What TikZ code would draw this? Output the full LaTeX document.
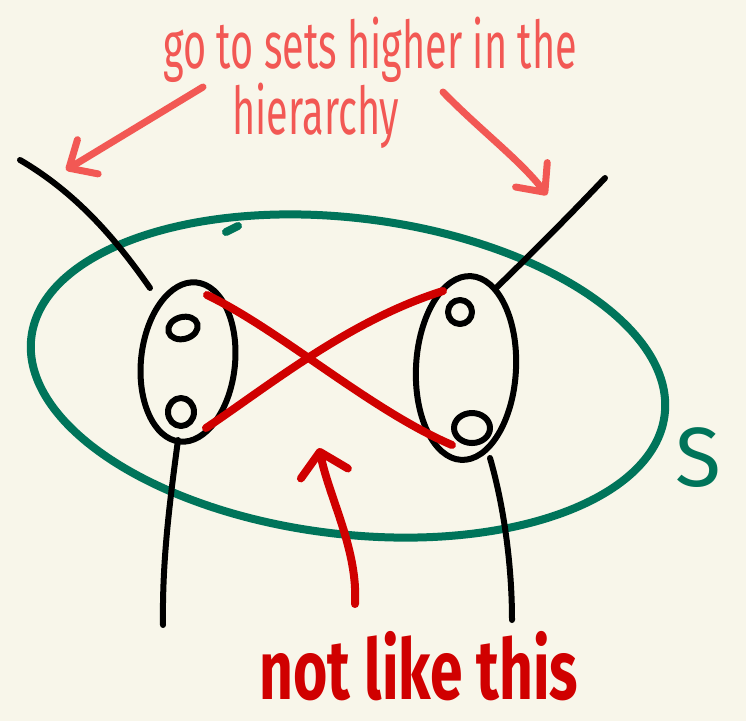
\documentclass[tikz,border=0pt]{standalone}
\usepackage{fontspec}
\setmainfont{Fira Sans}
\usetikzlibrary{arrows.meta}
\definecolor{bg}{RGB}{248,246,234}
\definecolor{salmon}{RGB}{242,88,84}
\definecolor{redx}{RGB}{208,0,0}
\definecolor{setgreen}{RGB}{0,116,90}
\tikzset{
  ink/.style={line width=6pt, line cap=round, line join=round, black},
  greenink/.style={line width=8pt, line cap=round, setgreen},
  redink/.style={line width=8pt, line cap=round, redx},
  salink/.style={line width=7pt, line cap=round, line join=round, salmon},
  barb/.style={-{Straight Barb[length=22pt,width=40pt,line width=7pt,round]}},
  lbl/.style={inner sep=0pt, anchor=center}
}
\begin{document}
\begin{tikzpicture}[x=1pt,y=-1pt]
\fill[bg] (0,0) rectangle (746,721);
\useasboundingbox (0,0) rectangle (746,721);
% set S
\draw[greenink, rotate around={-7:(348,376)}] (348,376) ellipse [x radius=319, y radius=158];
\draw[greenink] (226,232) -- (238,226);
\node[lbl, text=setgreen, font=\fontsize{84}{84}\selectfont] (slabel) at (698,458) {S};
% left set
\draw[ink, rotate around={-6:(188,362)}] (188,362) ellipse [x radius=47, y radius=80];
\draw[ink, rotate around={15:(183,328)}] (183,328) ellipse [x radius=15, y radius=11];
\draw[ink] (181,412) ellipse [x radius=13, y radius=14];
\draw[ink] (20,160) .. controls (80,195) and (120,245) .. (150,288);
\draw[ink] (178,440) .. controls (170,500) and (162,560) .. (163,625);
% right set
\draw[ink, rotate around={-3:(466,368)}] (466,368) ellipse [x radius=50, y radius=92];
\draw[ink] (460,312) ellipse [x radius=12, y radius=12];
\draw[ink] (472,428) ellipse [x radius=18, y radius=15];
\draw[ink] (605,178) .. controls (570,215) and (530,255) .. (496,288);
\draw[ink] (490,458) .. controls (505,510) and (512,570) .. (512,620);
% red cross
\draw[redink] (207,295) .. controls (280,330) and (370,410) .. (452,445);
\draw[redink] (443,291) .. controls (350,320) and (270,385) .. (206,428);
% red up arrow
\draw[redink, -{Straight Barb[length=22pt,width=48pt,line width=8pt,round]}]
  (355,604) .. controls (358,550) and (330,500) .. (319,448);
\node[lbl, text=redx, font=\fontsize{84}{84}\selectfont\bfseries] (notlike) at (419,666) {\scalebox{0.7}[1.0]{not like this}};
% top labels
\node[lbl, text=salmon, font=\fontsize{66}{66}\selectfont] (goto) at (370,50) {\scalebox{0.6}[1.0]{go to sets higher in the}};
\node[lbl, text=salmon, font=\fontsize{66}{66}\selectfont] (hier) at (316,116) {\scalebox{0.6}[1.0]{hierarchy}};
\coordinate (la) at (203,87);
\coordinate (lb) at (66,170);
\coordinate (ra) at (443,92);
\coordinate (rb) at (547,195);
\draw[salink, barb] (la) -- (lb);
\draw[salink, barb] (ra) .. controls (480,130) and (520,160) .. (rb);
\end{tikzpicture}
\end{document}
